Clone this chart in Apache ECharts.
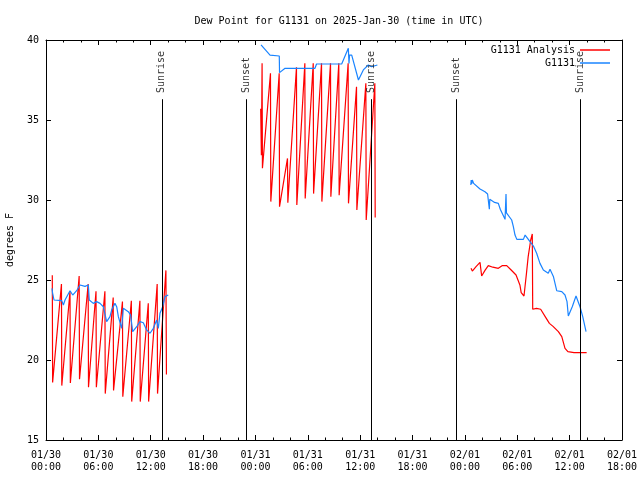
<!DOCTYPE html>
<html>
<head>
<meta charset="utf-8">
<script src="https://cdn.jsdelivr.net/npm/echarts@6/dist/echarts.min.js"></script>
<style>html,body{margin:0;padding:0;background:#fff;}#c{width:640px;height:480px;}</style>
</head>
<body>
<div id="c"></div>
<script>
// hours since 2025-01-30 00:00 UTC
const tickLabels = ['01/30\n00:00','01/30\n06:00','01/30\n12:00','01/30\n18:00','01/31\n00:00','01/31\n06:00','01/31\n12:00','01/31\n18:00','02/01\n00:00','02/01\n06:00','02/01\n12:00','02/01\n18:00'];

const analysisT1 = [0.72,0.76,1.77,1.81,2.75,2.79,3.80,3.84,4.83,4.87,5.73,5.77,6.75,6.79,7.70,7.74,8.76,8.80,9.78,9.82,10.76,10.80,11.72,11.76,12.74,12.78,13.74,13.80];
const analysisV1 = [25.3,18.6,24.75,18.4,24.3,18.56,25.25,18.8,24.75,18.3,24.3,18.3,24.3,17.9,23.9,18.1,23.65,17.7,23.7,17.4,23.7,17.4,23.55,17.4,24.75,17.9,25.6,19.1];

const analysisT2 = [24.60,24.68,24.76,24.80,25.72,25.76,26.72,26.76,27.67,27.71,28.70,28.74,29.66,29.70,30.62,30.66,31.57,31.61,32.60,32.64,33.55,33.59,34.62,34.66,35.58,35.62,36.65,36.69,37.68,37.72];
const analysisV2 = [35.7,32.8,38.54,31.98,37.92,29.9,37.92,29.58,32.6,29.83,38.3,29.69,38.54,30.1,38.54,30.4,38.54,29.9,38.54,30.2,38.54,30.3,38.54,29.79,37.08,29.38,37.29,28.75,37.3,28.9];

const analysisT3 = [48.70,48.85,49.3,49.73,49.92,50.3,50.68,51.2,51.83,52.3,52.79,53.3,53.86,54.3,54.45,54.77,55.05,55.25,55.54,55.72,55.77,56.2,56.68,57.2,57.68,58.1,58.71,59.1,59.47,59.8,60.5,61.95];
const analysisV3 = [25.73,25.56,25.85,26.1,25.25,25.6,25.9,25.8,25.73,25.9,25.9,25.625,25.31,24.69,24.21,24.0,25.4,26.46,27.5,27.875,23.17,23.23,23.17,22.71,22.29,22.1,21.77,21.46,20.73,20.52,20.46,20.46];

const obsT1 = [0.69,0.75,0.92,1.8,1.99,2.18,2.75,2.94,3.06,3.51,3.9,4.47,4.85,4.96,5.42,5.8,6.19,6.57,6.95,7.33,7.52,7.9,8.1,8.29,8.67,8.86,9.43,9.7,9.93,10.39,10.77,11.15,11.53,11.92,12.3,12.68,12.87,13.06,13.37,13.64,14.01];
const obsV1 = [24.48,24.2,23.75,23.71,23.44,23.75,24.33,24.4,24.06,24.33,24.69,24.6,24.69,23.75,23.54,23.65,23.54,23.33,22.4,22.71,23.12,23.54,23.33,22.71,21.98,23.23,23.02,22.81,21.77,22.08,22.4,22.33,21.88,21.67,21.98,22.5,21.98,22.92,23.33,23.96,24.06];

const obsT2 = [24.64,24.8,25.67,26.73,26.76,27.39,28.53,30.82,31.0,33.88,34.64,34.72,34.78,35.03,35.8,35.9,36.36,36.93,37.3,37.97];
const obsV2 = [39.69,39.58,39.06,39.0,37.96,38.23,38.23,38.23,38.5,38.5,39.48,38.54,39.06,39.06,37.5,37.6,38.13,38.44,38.33,38.44];

const obsT3 = [48.68,48.72,48.78,48.85,49.0,49.73,50.3,50.6,50.8,50.85,51.4,51.83,52.05,52.6,52.71,52.76,52.9,53.36,53.55,53.74,53.95,54.7,54.9,55.46,55.85,56.22,56.6,56.99,57.55,57.75,57.95,58.15,58.52,59.1,59.47,59.7,59.85,60.3,60.73,61.19,61.5,61.88];
const obsV3 = [30.94,31.25,31.0,31.25,31.04,30.69,30.52,30.375,29.42,30.04,29.85,29.79,29.42,28.79,30.375,29.2,29.27,28.75,28.33,27.81,27.54,27.54,27.81,27.4,27.125,26.67,26.04,25.625,25.42,25.67,25.625,25.2,24.33,24.27,24.06,23.65,22.75,23.33,24.0,23.33,22.71,21.77];

const eventT = [13.28,22.96,37.28,47.0,61.2];
const eventNames = ['Sunrise','Sunset','Sunrise','Sunset','Sunrise'];

function zip(t, v) { return t.map((x, i) => [x, v[i]]); }
function joinSegs(segs) {
  const out = [];
  segs.forEach((s, i) => { if (i > 0) out.push([s[0][0] - 0.01, '-']); out.push(...s); });
  return out;
}

const FONT = 'DejaVu Sans Mono';
const analysisData = joinSegs([zip(analysisT1, analysisV1), zip(analysisT2, analysisV2), zip(analysisT3, analysisV3)]);
const obsData = joinSegs([zip(obsT1, obsV1), zip(obsT2, obsV2), zip(obsT3, obsV3)]);

const chart = echarts.init(document.getElementById('c'), null, { renderer: 'canvas' });
const xCommon = {
  type: 'value', min: 0, max: 66, interval: 6,
  axisLine: { show: true, onZero: false, lineStyle: { color: '#000', width: 1 } },
  axisTick: { show: true, inside: true, length: 5, lineStyle: { color: '#000' } },
  minorTick: { show: true, splitNumber: 3, length: 2.5, lineStyle: { color: '#000' } },
  splitLine: { show: false }
};
const yCommon = {
  type: 'value', min: 15, max: 40, interval: 5,
  axisLine: { show: true, onZero: false, lineStyle: { color: '#000', width: 1 } },
  axisTick: { show: true, inside: true, length: 5, lineStyle: { color: '#000' } },
  splitLine: { show: false }
};
chart.setOption({
  animation: false,
  backgroundColor: '#fff',
  title: {
    text: 'Dew Point for G1131 on 2025-Jan-30 (time in UTC)',
    left: 334, top: 11, textAlign: 'center',
    textStyle: { fontFamily: FONT, fontSize: 10, fontWeight: 'normal', color: '#000' }
  },
  legend: [
    { data: ['G1131 Analysis'], orient: 'vertical', right: 30, top: 45, padding: 0, align: 'right',
      icon: 'rect', itemWidth: 30, itemHeight: 1.5, itemGap: 0,
      textStyle: { fontFamily: FONT, fontSize: 10, color: '#000' } },
    { data: ['G1131'], orient: 'vertical', right: 30, top: 58, padding: 0, align: 'right',
      icon: 'rect', itemWidth: 30, itemHeight: 1.5, itemGap: 0,
      textStyle: { fontFamily: FONT, fontSize: 10, color: '#000' } }
  ],
  grid: { left: 46, right: 18, top: 40, bottom: 40, containLabel: false, outerBoundsMode: 'none' },
  xAxis: [
    Object.assign({}, xCommon, { position: 'bottom',
      axisLabel: { show: true, margin: 9, lineHeight: 12, fontFamily: FONT, fontSize: 10, color: '#000',
        formatter: v => tickLabels[Math.round(v / 6)] } }),
    Object.assign({}, xCommon, { position: 'top', axisLabel: { show: false } })
  ],
  yAxis: [
    Object.assign({}, yCommon, { position: 'left', name: 'degrees F', nameLocation: 'middle', nameGap: 31,
      nameTextStyle: { fontFamily: FONT, fontSize: 10, color: '#000' },
      axisLabel: { show: true, margin: 7, fontFamily: FONT, fontSize: 10, color: '#000' } }),
    Object.assign({}, yCommon, { position: 'right', axisLabel: { show: false } })
  ],
  series: [
    { name: 'G1131 Analysis', type: 'line', data: analysisData, showSymbol: false, symbol: 'none',
      connectNulls: false, color: '#ff0000', lineStyle: { color: '#ff0000', width: 1.2 } },
    { name: 'G1131', type: 'line', data: obsData, showSymbol: false, symbol: 'none',
      connectNulls: false, color: '#1a84ff', lineStyle: { color: '#1a84ff', width: 1.2 } },
    { name: 'events', type: 'scatter', z: 5,
      data: eventT.map((t, i) => ({ value: [t, 36.68], name: eventNames[i] })),
      symbol: 'circle', symbolSize: 0.01, itemStyle: { color: 'rgba(0,0,0,0)' },
      label: { show: true, formatter: '{b}', position: [0, 0], rotate: 90, align: 'left', verticalAlign: 'middle',
        fontFamily: FONT, fontSize: 10, color: '#000' },
      markLine: { silent: true, symbol: 'none', animation: false,
        lineStyle: { color: '#000', width: 1, type: 'solid' }, label: { show: false },
        data: eventT.map(t => [{ coord: [t, 15] }, { coord: [t, 36.3] }]) }
    }
  ]
});
</script>
</body>
</html>
